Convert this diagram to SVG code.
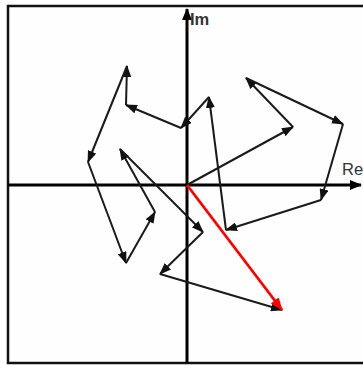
<svg xmlns="http://www.w3.org/2000/svg" width="363" height="365" viewBox="0 0 363 365">
<defs>
<style>
.frame{fill:#fefefe;stroke:#111;stroke-width:2.5}
.axis{stroke:#000;stroke-width:3;fill:none}
.vec{stroke:#1a1a1a;stroke-width:2;fill:none;marker-end:url(#ah)}
.sum{stroke:#f00;stroke-width:2.8;fill:none;marker-end:url(#ahr)}
.lbl{font-family:"Liberation Sans",Arial,sans-serif;font-size:16.5px;fill:#333}
</style>
<marker id="ah" markerUnits="userSpaceOnUse" markerWidth="12" markerHeight="9" refX="11" refY="4.5" orient="auto"><path d="M0,0 L12,4.5 L0,9 z" fill="#111"/></marker>
<marker id="ahr" markerUnits="userSpaceOnUse" markerWidth="13" markerHeight="10" refX="12" refY="5" orient="auto"><path d="M0,0 L13,5 L0,10 z" fill="#f00"/></marker>
<marker id="axh" markerUnits="userSpaceOnUse" markerWidth="12" markerHeight="10" refX="11" refY="5" orient="auto"><path d="M0,0 L12,5 L0,10 z" fill="#000"/></marker>
</defs>
<rect class="frame" x="8" y="6" width="358" height="357"/>
<g id="axes">
<line class="axis" x1="187" y1="363" x2="187" y2="9" marker-end="url(#axh)"/>
<line class="axis" x1="8" y1="185" x2="361" y2="185" marker-end="url(#axh)"/>
<text class="lbl" x="190" y="25" font-weight="bold">Im</text>
<text class="lbl" x="342" y="175">Re</text>
</g>
<g id="connectors">
<line class="vec" x1="187" y1="185" x2="293" y2="127"/>
<line class="vec" x1="293" y1="127" x2="246" y2="78"/>
<line class="vec" x1="246" y1="78" x2="343" y2="124"/>
<line class="vec" x1="343" y1="124" x2="321" y2="200"/>
<line class="vec" x1="321" y1="200" x2="226" y2="230"/>
<line class="vec" x1="226" y1="230" x2="209" y2="97"/>
<line class="vec" x1="209" y1="97" x2="181" y2="128"/>
<line class="vec" x1="181" y1="128" x2="126" y2="105"/>
<line class="vec" x1="126" y1="105" x2="127" y2="66"/>
<line class="vec" x1="127" y1="66" x2="88" y2="162"/>
<line class="vec" x1="88" y1="162" x2="126" y2="263"/>
<line class="vec" x1="126" y1="263" x2="155" y2="212"/>
<line class="vec" x1="155" y1="212" x2="120" y2="149"/>
<line class="vec" x1="120" y1="149" x2="203" y2="232"/>
<line class="vec" x1="203" y1="232" x2="160" y2="274"/>
<line class="vec" x1="160" y1="274" x2="282" y2="310"/>
<line class="sum" x1="187" y1="185" x2="282" y2="310"/>
</g>
</svg>
